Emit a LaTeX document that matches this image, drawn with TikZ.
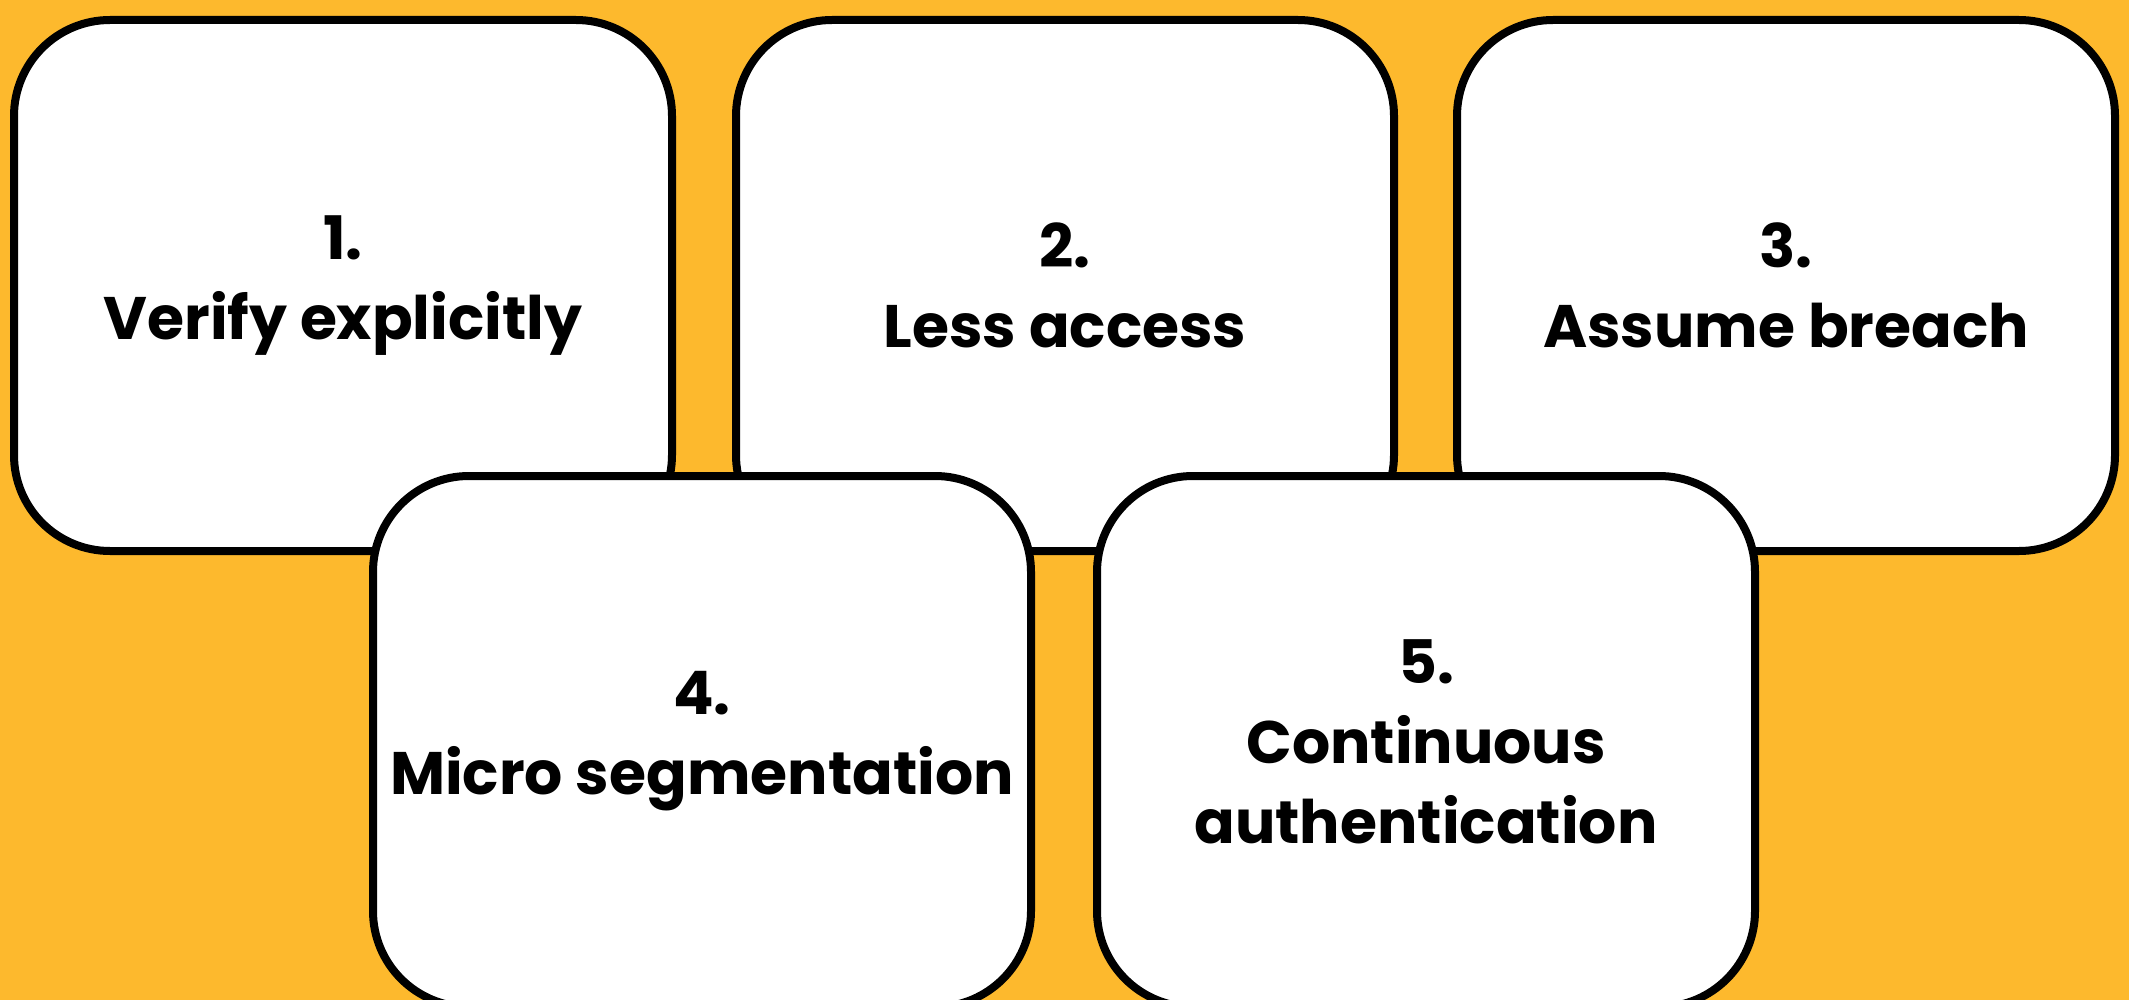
\documentclass[tikz,border=0pt]{standalone}
\usepackage{fontspec}
\setmainfont{Poppins}[BoldFont={* Bold}]
\definecolor{bgyellow}{HTML}{FDB92D}
\begin{document}
\begin{tikzpicture}[x=0.5pt,y=-0.5pt,
  card/.style={draw=black, fill=white, line width=4pt, rounded corners=48pt,
    minimum width=329pt, minimum height=265.5pt, inner sep=0pt,
    align=center, font=\fontsize{30}{40}\selectfont\bfseries}]
\useasboundingbox (0,0) rectangle (2129,1000);
\clip (0,0) rectangle (2129,1000);
\fill[bgyellow] (0,0) rectangle (2129,1000);
\node[card] (c1) at (343,285.5) {1.\\Verify explicitly};
\node[card] (c2) at (1065,285.5) {2.\\Less access};
\node[card] (c3) at (1786,285.5) {3.\\Assume breach};
\node[card] (c4) at (702,741.5) {4.\\Micro segmentation};
\node[card] (c5) at (1426,741.5) {5.\\Continuous\\authentication};
\end{tikzpicture}
\end{document}
